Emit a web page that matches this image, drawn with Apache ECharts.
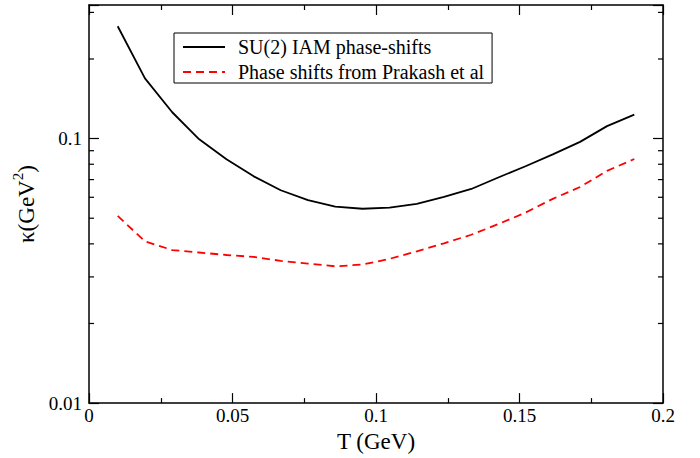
<!DOCTYPE html>
<html>
<head>
<meta charset="utf-8">
<script src="https://cdn.jsdelivr.net/npm/echarts@6/dist/echarts.min.js"></script>
<style>html,body{margin:0;padding:0;background:#fff;}#c{width:700px;height:458px;}</style>
</head>
<body>
<div id="c"></div>
<script>
var temperatures = [0.01, 0.0195, 0.029, 0.0384, 0.0479, 0.0574, 0.0668, 0.0763, 0.0858, 0.0953,
                    0.1047, 0.1142, 0.1237, 0.1332, 0.1426, 0.1521, 0.1616, 0.1711, 0.1805, 0.19];
var iamKappa = [0.266, 0.169, 0.1258, 0.0994, 0.0835, 0.072, 0.0638, 0.0585, 0.0553, 0.0543,
                0.0548, 0.0567, 0.0602, 0.0645, 0.0713, 0.0786, 0.0872, 0.0972, 0.1115, 0.1232];
var prakashKappa = [0.051, 0.0409, 0.0379, 0.0371, 0.0363, 0.0357, 0.0345, 0.0337, 0.0329, 0.0334,
                    0.0351, 0.0375, 0.0402, 0.0433, 0.0475, 0.0525, 0.0592, 0.0656, 0.0755, 0.0837];
var seriesNames = ['SU(2) IAM phase-shifts', 'Phase shifts from Prakash et al'];
var yTickLabels = [0.01, 0.1];
var yMinorTicks = [0.02, 0.03, 0.04, 0.05, 0.06, 0.07, 0.08, 0.09, 0.2, 0.3];

var FONT = 'Liberation Serif';
function pairs(xs, ys) { return xs.map(function (x, i) { return [x, ys[i]]; }); }

var chart = echarts.init(document.getElementById('c'), null, { renderer: 'svg' });
var axisLine = { show: true, onZero: false, lineStyle: { color: '#000', width: 1.5 } };
chart.setOption({
  animation: false,
  backgroundColor: '#fff',
  grid: { left: 89, top: 5, right: 37, bottom: 50, containLabel: false },
  legend: {
    data: seriesNames,
    orient: 'vertical',
    left: 174, top: 33,
    borderColor: '#000', borderWidth: 1,
    padding: [4, 8, 1, 8],
    itemWidth: 42, itemHeight: 14, itemGap: 5,
    itemStyle: { opacity: 0 },
    textStyle: { fontFamily: FONT, fontSize: 20, color: '#000', padding: [0, 0, 0, 8] }
  },
  xAxis: [{
    type: 'value', min: 0, max: 0.2, interval: 0.05,
    name: 'T (GeV)', nameLocation: 'middle', nameGap: 24,
    nameTextStyle: { fontFamily: FONT, fontSize: 23, color: '#000' },
    axisLine: axisLine,
    axisTick: { inside: true, length: 10, lineStyle: { color: '#000', width: 1.2 } },
    minorTick: { show: true, splitNumber: 2, length: 5, lineStyle: { color: '#000', width: 1.2 } },
    axisLabel: { fontFamily: FONT, fontSize: 19, color: '#000', margin: 3,
      formatter: function (v) { return String(+v.toFixed(3)); } },
    splitLine: { show: false }
  }, {
    type: 'value', min: 0, max: 0.2, interval: 0.05, position: 'top',
    axisLine: axisLine,
    axisTick: { inside: true, length: 10, lineStyle: { color: '#000', width: 1.2 } },
    minorTick: { show: true, splitNumber: 2, length: 5, lineStyle: { color: '#000', width: 1.2 } },
    axisLabel: { show: false }, splitLine: { show: false }
  }],
  yAxis: [{
    type: 'log', logBase: 10, min: 0.01, max: 0.32,
    name: '{a|κ(GeV}{b|2}{a|)}', nameLocation: 'middle', nameRotate: 90, nameGap: 46,
    nameTextStyle: { fontFamily: FONT, fontSize: 23, color: '#000',
      rich: { a: { fontFamily: FONT, fontSize: 23, color: '#000', verticalAlign: 'bottom' },
              b: { fontFamily: FONT, fontSize: 15, color: '#000', verticalAlign: 'bottom', padding: [0, 0, 12, 0] } } },
    axisLine: axisLine,
    axisTick: { inside: true, length: 10, lineStyle: { color: '#000', width: 1.2 } },
    minorTick: { show: false },
    axisLabel: { fontFamily: FONT, fontSize: 19, color: '#000', margin: 7,
      formatter: function (v) {
        for (var i = 0; i < yTickLabels.length; i++) {
          if (Math.abs(v - yTickLabels[i]) < 1e-9) return String(yTickLabels[i]);
        }
        return '';
      } },
    splitLine: { show: false }
  }, {
    type: 'log', logBase: 10, min: 0.01, max: 0.32, position: 'right',
    axisLine: axisLine,
    axisTick: { inside: true, length: 10, lineStyle: { color: '#000', width: 1.2 } },
    axisLabel: { show: false }, splitLine: { show: false }
  }],
  series: [{
    name: seriesNames[0], type: 'line', data: pairs(temperatures, iamKappa),
    showSymbol: false, symbol: 'none',
    lineStyle: { color: '#000', width: 1.8 }, itemStyle: { color: '#000' }
  }, {
    name: seriesNames[1], type: 'line', data: pairs(temperatures, prakashKappa),
    showSymbol: false, symbol: 'none',
    lineStyle: { color: '#ff0000', width: 1.8, type: [8, 5] }, itemStyle: { color: '#ff0000' }
  }, {
    name: 'minorTicks', type: 'custom', silent: true,
    data: yMinorTicks.map(function (v) { return [0, v]; }),
    renderItem: function (params, api) {
      var v = api.value(1);
      var l = api.coord([0, v]);
      var r = api.coord([0.2, v]);
      var st = { stroke: '#000', lineWidth: 1.2 };
      return { type: 'group', children: [
        { type: 'line', shape: { x1: l[0], y1: l[1], x2: l[0] + 5, y2: l[1] }, style: st },
        { type: 'line', shape: { x1: r[0], y1: r[1], x2: r[0] - 5, y2: r[1] }, style: st }
      ] };
    },
    clip: false, z: 5
  }]
});
</script>
</body>
</html>
